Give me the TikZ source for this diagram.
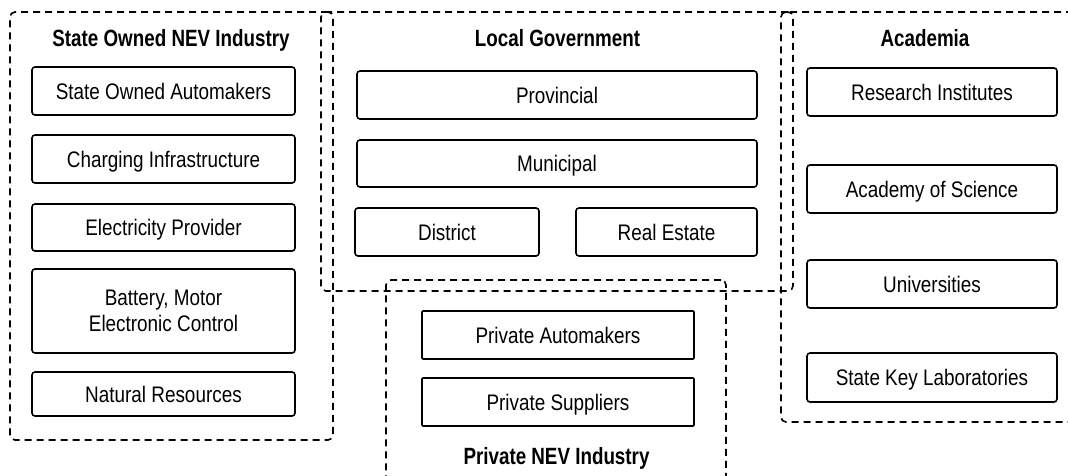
\documentclass[tikz,border=0pt]{standalone}
\usepackage{fontspec}
\setmainfont{Liberation Sans}
\newfontfamily\labfont[FakeStretch=0.84]{Liberation Sans}
\newfontfamily\ttlfont[FakeStretch=0.80]{Liberation Sans Bold}
\begin{document}
\begin{tikzpicture}[x=1pt,y=-1pt,
  box/.style={draw, line width=1.6pt, rounded corners=3pt, inner sep=0pt,
    align=center, font=\fontsize{22.5}{26}\labfont, text height=16pt, text depth=0pt},
  group/.style={draw, line width=1.6pt, rounded corners=5pt, inner sep=0pt,
    dash pattern=on 7pt off 5pt},
  title/.style={anchor=base, inner sep=0pt, font=\fontsize{23.5}{26}\ttlfont}]
\useasboundingbox (0,0) rectangle (1068,475);
\clip (0,0) rectangle (1068,475);
% groups
\node[group, minimum width=323, minimum height=428] (g1) at (171.5,226) {};
\node[group, minimum width=472, minimum height=279] (g2) at (557,151.5) {};
\node[group, minimum width=297, minimum height=410] (g3) at (929.5,217) {};
\node[group, minimum width=340, minimum height=210] (g4) at (556,385) {};
% titles
\node[title] (t1) at (171,46) {State Owned NEV Industry};
\node[title] (t2) at (557.5,46) {Local Government};
\node[title] (t3) at (925,46) {Academia};
\node[title] (t4) at (556.5,464) {Private NEV Industry};
% state owned
\node[box, minimum width=263, minimum height=48] (s1) at (163.5,91) {State Owned Automakers};
\node[box, minimum width=263, minimum height=48] (s2) at (163.5,159) {Charging Infrastructure};
\node[box, minimum width=263, minimum height=47] (s3) at (163.5,227.5) {Electricity Provider};
\node[box, minimum width=263, minimum height=84, text height=, text depth=] (s4) at (163.5,311) {Battery, Motor\\Electronic Control};
\node[box, minimum width=263, minimum height=44] (s5) at (163.5,394) {Natural Resources};
% local government
\node[box, minimum width=400, minimum height=48] (l1) at (557,95) {Provincial};
\node[box, minimum width=400, minimum height=47] (l2) at (557,163.5) {Municipal};
\node[box, minimum width=184, minimum height=48] (l3) at (447,232) {District};
\node[box, minimum width=181, minimum height=48] (l4) at (666.5,232) {Real Estate};
% private
\node[box, minimum width=272, minimum height=48, rounded corners=1pt] (p1) at (558,335) {Private Automakers};
\node[box, minimum width=272, minimum height=48, rounded corners=1pt] (p2) at (558,402) {Private Suppliers};
% academia
\node[box, minimum width=250, minimum height=48] (a1) at (932,92) {Research Institutes};
\node[box, minimum width=250, minimum height=48] (a2) at (932,189) {Academy of Science};
\node[box, minimum width=250, minimum height=48] (a3) at (932,284) {Universities};
\node[box, minimum width=250, minimum height=49] (a4) at (932,377.5) {State Key Laboratories};
\end{tikzpicture}
\end{document}
